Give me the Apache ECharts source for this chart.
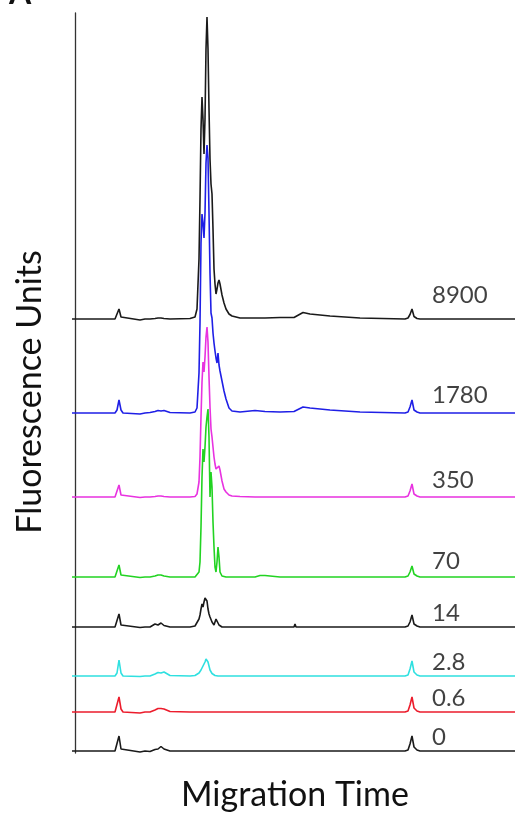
<!DOCTYPE html>
<html>
<head>
<meta charset="utf-8">
<script src="https://cdn.jsdelivr.net/npm/echarts@6/dist/echarts.min.js"></script>
<style>
html,body{margin:0;padding:0;background:#fff;}
#chart{width:517px;height:813px;}
</style>
</head>
<body>
<div id="chart"></div>
<script>
// Migration time sample positions (arbitrary units)
const time = [-3,25,40,42,44,46,48,65,70,75,80,83,86,89,95,115,120,122,124,125,126,127,128,129,130,131,132,133,134,135,136,137,138,139,140,141,142,143,144,145,147,149,151,154,157,165,180,185,190,205,219,220,221,228,235,255,285,330,333,335,337,339,342,345,365,440];

// Concentration labels of each trace (top to bottom)
const concentrations = ['8900','1780','350','70','14','2.8','0.6','0'];

// Vertical offset (stacking baseline) of each trace, fluorescence units
const baselines = [432, 338, 254, 174, 124, 75, 39, 0];

// Fluorescence signal of each trace above its baseline
const sig8900 = [0,0,0,2,10,2,0, -1,0,0,0.5,1,1,0.5,0, 0.5,2,10,60,120,190,222,200,165,200, 270,302,270,210,160,135,125,90,50,35, 25,30,36,39,35,24,16,10,5,3, 1,1,1,1,1.5,1.5,2,2.5,6.5,5, 3,1,0,1,4.5,10,2.5,0.5,0,0,0];
const sig1780 = [0,0,0,3,13,3,0, -1,0,0.5,1.5,2.5,2,2.5,0.5, 0,1,5,40,90,170,199,190,175,200, 250,268,255,200,140,100,95,80,70,62, 55,50,60,48,42,32,22,14,5,2, 1,2.5,2,1.5,1,1.5,2,3,6,5, 3,1,0,1,6,13,3,1,0,0,0];
const sig350 = [0,0,0,2,12,2,0, -0.5,0,0,0.5,1,1,0.5,0, 0,0.5,3,15,40,80,115,135,125,140, 160,170,155,120,90,68,60,50,40,33, 28,27,30,31,27,16,8,5,2,1, 0.5,0,0,0,0,0,0,0,0,0, 0,0,0,1,6,13,3,1,0,0,0];
const sig70 = [0,0,0,2,12,2,0, -0.5,0,0,1,2,2,1,0, 0,0,1,5,15,50,100,128,115,130, 150,160,168,140,80,105,90,55,30,10, 5,15,30,20,5,1,0,0,0,0, 0,0,1.5,1.5,0,0,0,0,0,0, 0,0,0,1,5,11,3,1,0,0,0];
const sig14 = [0,0,0,2,13,2,0, -0.5,0,0,3,2,4,1.5,0, 0,1,3,8,12,18,23,20,25,29, 31,26,18,13,10,8,5,3,2,4, 8,10,6,2,1,0,0,0,0,0, 0,0,0,0,0,0,3,0,0,0, 0,0,0,1,5,12,3,1,0,0,0];
const sig2_8 = [0,0,0,3,16,3,0, -0.5,0,0,2,3.5,3,4,0.5, 0,0.5,1.5,3,4,6,8,10,12,14, 17,18,14,10,6,4,2.5,1.5,1,0.5, 0,0,0,0,0,0,0,0,0,0, 0,0,0,0,0,0,0,0,0,0, 0,0,0,1,7,15,4,1,0,0,0];
const sig0_6 = [0,0,0,2,15,3,0, -1,0,0,2,3.5,3.5,3,0.5, 0,0,0,0,0,0,0,0,0,0, 0,0,0,0,0,0,0,0,0,0, 0,0,0,0,0,0,0,0,0,0, 0,0,0,0,0,0,0,0,0,0, 0,0,0,1,7,15,4,1,0,0,0];
const sig0 = [0,0,0,2,15,2,0, -1,0,-0.5,1.5,2,4.5,2,0, 0,0,0,0,0,0,0,0,0,0, 0,0,0,0,0,0,0,0,0,0, 0,0,0,0,0,0,0,0,0,0, 0,0,0,0,0,0,0,0,0,0, 0,0,0,1,7,15,4,1,0,0,0];

const signals = [sig8900, sig1780, sig350, sig70, sig14, sig2_8, sig0_6, sig0];
const colors = ['#1a1a1a','#1f1fe6','#e832e0','#22d322','#1a1a1a','#2fe0e0','#ec1c2c','#1a1a1a'];
// extra lift (px) of each concentration label above its trace
const labelLift = [12, 6, 5, 4, 2, 2, 2, 2];

// Migration time at which the concentration labels start
const labelTime = 357;

const FONT = 'Lato, Carlito, "Open Sans", sans-serif';

const series = signals.map((s, k) => ({
  type: 'line',
  name: concentrations[k],
  data: time.map((t, i) => [t, baselines[k] + s[i]]),
  showSymbol: false,
  symbol: 'none',
  clip: false,
  lineStyle: { color: colors[k], width: 1.6 },
  z: 10 - k,
  animation: false
}));

series.push({
  type: 'scatter',
  data: baselines.map((b, k) => ({
    value: [labelTime, b], name: concentrations[k],
    label: { distance: labelLift[k] }
  })),
  symbolSize: 0,
  silent: true,
  animation: false,
  label: {
    show: true,
    position: 'top',
    align: 'left',
    formatter: p => p.name,
    fontFamily: FONT,
    fontSize: 24,
    color: '#111'
  }
});

const chart = echarts.init(document.getElementById('chart'), null, { renderer: 'canvas' });
chart.setOption({
  backgroundColor: '#fff',
  animation: false,
  grid: { left: 72, right: 2, top: 13, bottom: 60 },
  xAxis: {
    type: 'value', min: -3, max: 440,
    axisLine: { show: false }, axisTick: { show: false }, axisLabel: { show: false }, splitLine: { show: false }
  },
  yAxis: {
    type: 'value', min: -2, max: 738,
    axisLine: { show: true, onZero: true, lineStyle: { color: '#333', width: 1.3 } },
    axisTick: { show: false }, axisLabel: { show: false }, splitLine: { show: false }
  },
  graphic: [{
    type: 'text', x: 9, y: -22,
    style: { text: 'A', fontFamily: FONT, fontWeight: 'bold', fontSize: 32, fill: '#111' }
  }, {
    type: 'text', x: 30, y: 392, rotation: Math.PI / 2,
    style: { text: 'Fluorescence Units', fontFamily: FONT, fontSize: 34, fill: '#111', align: 'center', verticalAlign: 'middle' }
  }, {
    type: 'text', x: 295, y: 795,
    style: { text: 'Migration Time', fontFamily: FONT, fontSize: 34, fill: '#111', align: 'center', verticalAlign: 'middle' }
  }],
  series: series
});
</script>
</body>
</html>
